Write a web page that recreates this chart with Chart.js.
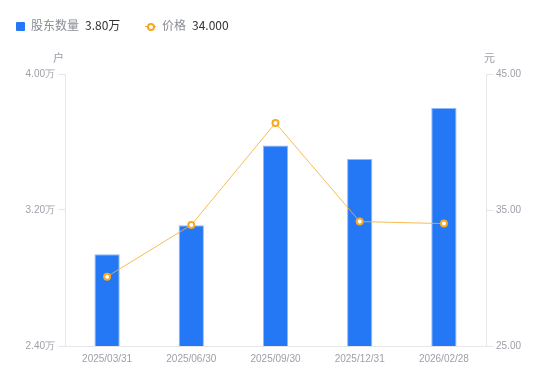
<!DOCTYPE html>
<html>
<head>
<meta charset="utf-8">
<script src="https://cdn.jsdelivr.net/npm/chart.js@4"></script>
<style>
  body { margin: 0; background: #fff; font-family: "Noto Sans CJK SC", "Noto Sans", sans-serif; }
  #wrap { position: relative; width: 550px; height: 381px; }
  canvas { position: absolute; left: 0; top: 0; }
  .lg { position: absolute; top: 16px; font-size: 12px; line-height: 17px; white-space: nowrap; }
  .lg .name { color: #8a8c96; }
  .lg .val { color: #333; margin-left: 6px; }
  .sq { display: inline-block; width: 9px; height: 9px; background: #2478F5; border-radius: 1px; vertical-align: -1px; margin-right: 6px; }
  .ln { display: inline-block; position: relative; width: 11px; height: 9px; margin-right: 6px; vertical-align: -1px; }
  .ln:before { content: ""; position: absolute; left: 0; right: 0; top: 4px; height: 1px; background: #F5A623; }
  .ln:after { content: ""; position: absolute; left: 2px; top: 1px; width: 4px; height: 4px; border: 2px solid #F5A623; border-radius: 50%; background: #fff; }
  .unit { position: absolute; top: 49px; font-size: 11px; color: #9a9ca6; }
</style>
</head>
<body>
<div id="wrap">
  <canvas id="c" width="550" height="381"></canvas>
  <div class="lg" style="left:16px"><span class="sq"></span><span class="name">股东数量</span><span class="val">3.80万</span></div>
  <div class="lg" style="left:145px"><span class="ln"></span><span class="name">价格</span><span class="val">34.000</span></div>
  <div class="unit" style="left:53px">户</div>
  <div class="unit" style="left:484px">元</div>
</div>
<script>
// 股东数量 (万户) and 价格 (元)
const dates = ['2025/03/31', '2025/06/30', '2025/09/30', '2025/12/31', '2026/02/28'];
const holders = [2.94, 3.11, 3.58, 3.50, 3.80];
const prices = [30.1, 33.9, 41.4, 34.15, 34.0];
const leftTicks = [2.4, 3.2, 4.0];
const rightTicks = [25, 35, 45];

const axisColor = '#e6e6e9';
const tickColor = '#9ea0aa';

new Chart(document.getElementById('c'), {
  type: 'bar',
  data: {
    labels: dates,
    datasets: [
      {
        type: 'line',
        label: '价格',
        data: prices,
        yAxisID: 'y1',
        borderColor: 'rgba(245,176,50,0.85)',
        borderWidth: 1,
        pointRadius: 3,
        pointBorderWidth: 2,
        pointBorderColor: '#F7A925',
        pointBackgroundColor: '#fff',
        tension: 0,
        order: 0
      },
      {
        label: '股东数量',
        data: holders,
        yAxisID: 'y',
        backgroundColor: '#2478F5',
        borderColor: '#8fbaf8',
        borderWidth: { top: 1, left: 1, right: 1, bottom: 0 },
        barPercentage: 0.3,
        categoryPercentage: 1,
        order: 1
      }
    ]
  },
  options: {
    responsive: false,
    animation: false,
    layout: { padding: { top: 74, left: 0, right: 0, bottom: 0 } },
    plugins: { legend: { display: false }, tooltip: { enabled: false } },
    scales: {
      x: {
        grid: { display: false, drawTicks: false },
        border: { color: axisColor },
        ticks: { color: tickColor, font: { size: 10 }, padding: 7, maxRotation: 0 },
        afterFit: s => { s.height = 35; }
      },
      y: {
        position: 'left',
        min: 2.4,
        max: 4.0,
        afterBuildTicks: s => { s.ticks = leftTicks.map(v => ({ value: v })); },
        ticks: { color: tickColor, font: { size: 10 }, padding: 3, callback: v => v.toFixed(2) + '万' },
        grid: { drawOnChartArea: false, color: axisColor, tickLength: 7 },
        border: { color: axisColor },
        afterFit: s => { s.width = 65; }
      },
      y1: {
        position: 'right',
        min: 25,
        max: 45,
        afterBuildTicks: s => { s.ticks = rightTicks.map(v => ({ value: v })); },
        ticks: { color: tickColor, font: { size: 10 }, padding: 3, callback: v => v.toFixed(2) },
        grid: { drawOnChartArea: false, color: axisColor, tickLength: 7 },
        border: { color: axisColor },
        afterFit: s => { s.width = 64; }
      }
    }
  }
});
</script>
</body>
</html>
